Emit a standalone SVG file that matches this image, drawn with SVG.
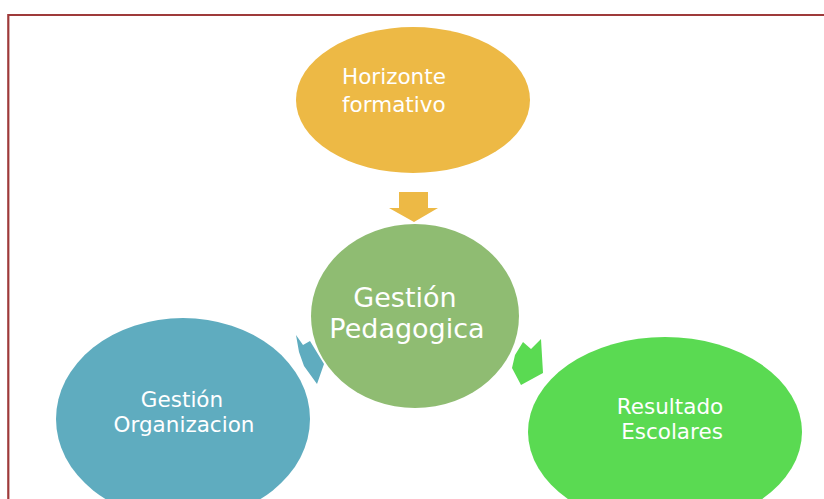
<svg xmlns="http://www.w3.org/2000/svg" width="824" height="499" viewBox="0 0 824 499">
<style>
.t{font-family:"DejaVu Sans",Verdana,sans-serif;fill:#ffffff;font-size:21.5px}
.b{font-size:27px}
.c{text-anchor:middle}
</style>
<rect x="0" y="0" width="824" height="499" fill="#ffffff"/>
<path d="M8.3 499 V15 H824" fill="none" stroke="#9E3A3A" stroke-width="2.2"/>
<g id="horizonte">
<ellipse cx="413" cy="100" rx="117" ry="73" fill="#EDB945"/>
<text class="t" x="342" y="84">Horizonte</text>
<text class="t" x="342" y="112">formativo</text>
</g>
<g id="pedagogica">
<ellipse cx="415" cy="316" rx="104" ry="92" fill="#8FBC72"/>
<text class="t c b" x="405" y="307">Gestión</text>
<text class="t c b" x="407" y="338">Pedagogica</text>
</g>
<g id="organizacion">
<ellipse cx="183" cy="419" rx="127" ry="101" fill="#5FACBF"/>
<text class="t c" x="182" y="407">Gestión</text>
<text class="t c" x="184" y="432">Organizacion</text>
</g>
<g id="resultado">
<ellipse cx="665" cy="432" rx="137" ry="95" fill="#5ADA52"/>
<text class="t c" x="670" y="414">Resultado</text>
<text class="t c" x="672" y="439">Escolares</text>
</g>
<g id="connectors">
<polygon points="399,192 428,192 428,208 438,208 414,222 389,208 399,208" fill="#EDB945"/>
<polygon points="296,335 303,345 310,341 324,364 317,384 304,366 299,352" fill="#5FACBF"/>
<polygon points="523,342 531,349 541,339 543,373 521,385 512,368 515,355" fill="#5ADA52"/>
</g>
</svg>
